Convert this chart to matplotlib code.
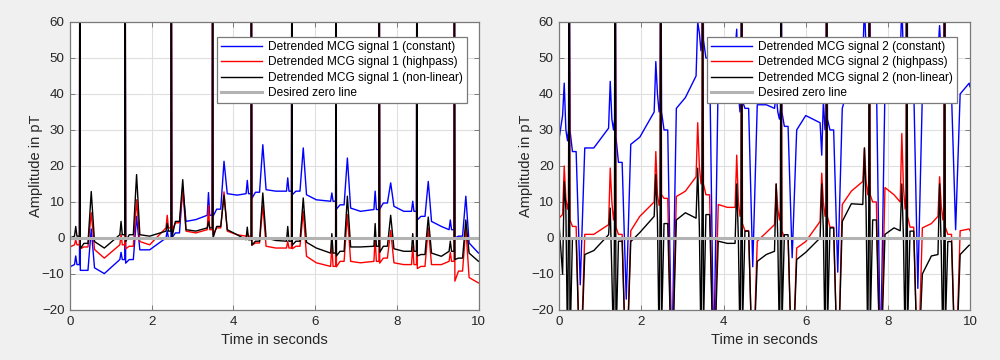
import numpy as np
import matplotlib
matplotlib.use("Agg")
import matplotlib.pyplot as plt

plt.rcParams['font.family'] = ['Liberation Sans', 'DejaVu Sans']

# ---------------- shared axis data ----------------
time_ticks = [0, 2, 4, 6, 8, 10]
amp_ticks = [-20, -10, 0, 10, 20, 30, 40, 50, 60]
series_colors = ['#0000ff', '#ff0000', '#000000']
zero_color = '#b3b3b3'

# ---------------- signal 1 (left panel) ----------------
s1_beat_t = [0.24, 1.35, 2.48, 3.49, 4.44, 5.43, 6.51, 7.57, 8.49, 9.41]
# time offsets (s) of the read points inside one beat, relative to the R peak
s1_rel_t = [-0.13, -0.10, -0.07, -0.008, 0.0, 0.012, 0.10, 0.20, 0.28, 0.36, 0.60]
# which reading of a beat row is found at each offset
s1_pick = [0, 1, 0, 0, 2, 3, 4, 4, 5, 6, 7]
# beat rows: [baseline before, P, R, S, ST, T, after T, mid-diastole]
s1_constant = [
    [-7.4, -5.0, 100, -9, -9.0, 2.5, -8.3, -9.9],
    [-6.0, -4.0, 100, -7, -6.0, 6.0, -3.3, -3.3],
    [0.0, 2.0, 100, 0, 1.4, 14.0, 4.6, 5.1],
    [6.3, 12.6, 100, 6, 8.0, 21.3, 12.3, 11.9],
    [12.3, 16.0, 100, 11, 12.7, 25.9, 13.4, 13.0],
    [13.0, 16.7, 100, 12, 13.0, 25.0, 12.0, 10.6],
    [10.2, 12.5, 100, 8, 9.2, 22.2, 8.3, 7.4],
    [7.9, 13.0, 100, 8, 9.7, 15.3, 8.8, 7.4],
    [7.4, 10.2, 100, 5, 6.0, 15.7, 4.6, 3.2],
    [2.3, 5.0, 100, 0, 0.5, 11.6, -1.4, -4.2],
]
s1_highpass = [
    [-1.9, -0.5, 100, -3, -2.5, 7.0, -3.2, -5.6],
    [-1.9, 1.0, 100, -3, -2.3, 10.6, -1.0, -1.9],
    [2.8, 6.3, 100, 2, 4.2, 13.4, 1.9, 1.4],
    [2.3, 9.0, 100, 1, 2.8, 12.8, 1.9, 0.9],
    [0.5, 1.5, 100, -2, -1.4, 9.0, -2.3, -2.8],
    [-2.8, -1.0, 100, -3, -2.3, 7.4, -5.1, -6.9],
    [-7.9, -1.9, 100, -8, -6.5, 6.5, -6.5, -6.9],
    [-6.5, 0.0, 100, -7, -5.6, 2.1, -6.9, -7.4],
    [-7.4, -2.3, 100, -8.5, -7.9, 2.8, -7.4, -7.4],
    [-6.5, -4.0, 100, -12, -9.2, 2.8, -11.0, -12.5],
]
s1_nonlinear = [
    [0.5, 3.2, 100, -3, -1.5, 12.9, -1.0, -2.8],
    [0.9, 4.6, 100, -1, 0.9, 17.6, 0.9, 0.5],
    [1.9, 4.0, 100, 0, 4.6, 16.2, 2.3, 1.9],
    [2.8, 4.6, 100, 0, 3.2, 11.8, 2.3, 0.9],
    [-0.5, 3.0, 100, -2, -0.9, 12.5, 0.0, -0.7],
    [-0.9, 3.2, 100, -2, -0.9, 11.1, -1.2, -2.8],
    [-4.2, 1.2, 100, -5, -3.7, 11.6, -2.5, -2.5],
    [-2.3, 4.0, 100, -4, -2.3, 6.3, -3.0, -3.7],
    [-3.7, 1.2, 100, -5, -4.6, 5.8, -4.2, -5.1],
    [-3.7, -0.9, 100, -6, -5.6, 5.0, -4.2, -6.5],
]
s1_start = [-8.0, -2.5, 0.0]   # values at t = 0 (constant, highpass, non-linear)
s1_end = [-4.2, -12.5, -6.5]   # values at t = 10

# ---------------- signal 2 (right panel) ----------------
s2_beat_t = [0.24, 1.36, 2.47, 3.49, 4.44, 5.40, 6.51, 7.55, 8.46, 9.38]
s2_rel_t = [-0.16, -0.12, -0.08, -0.04, -0.015, 0.0, 0.02, 0.08, 0.17, 0.27, 0.38, 0.60]
s2_pick = [0, 1, 2, 3, 4, 5, 6, 7, 7, 8, 9, 10]
# beat rows: [before, Q spike, after Q, down spike, before R, R, S, ST, T dip, after T, mid]
s2_constant = [
    [34, 43, 30, 27, 30, 100, 30, 24, -13, 25, 25],
    [30.5, 43.5, 33, 30, 33, 100, 28, 21, -17, 26, 28],
    [35, 49, 40, 35, 38, 100, 35, 30, -35, 36, 39],
    [45, 60, 57, 52, 55, 100, 55, 50, -35, 45, 50],
    [52, 58, 40, 35, 40, 100, 38, 36, -8, 37, 37],
    [36, 40, 35, 33, 36, 100, 35, 31, -5.5, 30, 34],
    [32, 23, 38, 30, 34, 100, 33, 30, -9.5, 36, 45],
    [50, 65, 52, 48, 52, 100, 50, 45, -35, 42, 48],
    [50, 65, 50, 45, 50, 100, 48, 42, -14, 40, 48],
    [52, 59, 50, 45, 50, 100, 48, 40, 2.3, 40, 43],
]
s2_highpass = [
    [6.5, 20, 11, 8, 10, 100, 5, 3.2, -40, 1, 1],
    [3.7, 19.4, 10, 5, 8, 100, 3, 1, -40, 2, 6],
    [10, 24, 12, 9, 11, 100, 12, 11, -40, 11.5, 13],
    [17, 32, 20, 15, 18, 100, 15, 12, -40, 9.3, 8.5],
    [8.5, 23, 10, 6, 8, 100, 4, 2, -40, -0.9, 1.5],
    [3.7, 15, 8, 5, 8, 100, 2, 0, -40, -2.8, -1],
    [4.6, 18, 10, 6, 9, 100, 6, 3, -40, 9.3, 13],
    [15.7, 25, 16, 12, 15, 100, 12, 10, -40, 14, 12],
    [10, 29, 14, 8, 12, 100, 6, 3, -40, 2.8, 4],
    [6, 17, 9, 5, 8, 100, 3, 1, -40, 2, 2.5],
]
s2_nonlinear = [
    [-10, 15.6, 8, -30, 5, 100, -30, 0, -40, -4.6, -3.5],
    [0.9, 8.3, -10, -30, 5, 100, -30, -0.9, -40, -1, 1.5],
    [6, 17.6, 5, -30, 8, 100, -25, 4, -40, 5, 7],
    [5.5, 19.4, 3, -30, 6, 100, -25, 6.5, -40, -0.9, -1.5],
    [-1.5, 15, 0, -30, 3, 100, -25, 1.9, -40, -6.5, -4.6],
    [-3.7, 15, 0, -30, 2, 100, -25, 0.9, -40, -6, -4],
    [0, 15, 2, -30, 4, 100, -25, 2.8, -40, 4.6, 9.5],
    [9.3, 25, 8, -30, 8, 100, -25, 5, -40, 1, 2.8],
    [2, 15, 0, -30, 3, 100, -25, 1.9, -40, -10, -5],
    [-4.6, 15, -3, -30, 0, 100, -25, -1, -40, -4.6, -2],
]
s2_start = [28.0, 5.6, 2.8]
s2_end = [42.0, 2.0, -2.0]

s1_labels = ['Detrended MCG signal 1 (constant)',
             'Detrended MCG signal 1 (highpass)',
             'Detrended MCG signal 1 (non-linear)']
s2_labels = ['Detrended MCG signal 2 (constant)',
             'Detrended MCG signal 2 (highpass)',
             'Detrended MCG signal 2 (non-linear)']
zero_label = 'Desired zero line'


def assemble(beat_t, rel_t, pick, rows, v_start, v_end):
    """Place the read values of every beat at their read times."""
    ts, vs = [0.0], [v_start]
    for bt, row in zip(beat_t, rows):
        for r, k in zip(rel_t, pick):
            ts.append(bt + r)
            vs.append(row[k])
    ts.append(10.0)
    vs.append(v_end)
    order = np.argsort(ts, kind='stable')
    return np.asarray(ts)[order], np.asarray(vs)[order]


fig = plt.figure(figsize=(10, 3.6), dpi=100, facecolor='#f0f0f0')
ax1 = fig.add_axes([0.070, 0.139, 0.4085, 0.800])
ax2 = fig.add_axes([0.5593, 0.139, 0.4107, 0.800])

panels = [
    (ax1, s1_beat_t, s1_rel_t, s1_pick, [s1_constant, s1_highpass, s1_nonlinear],
     s1_start, s1_end, s1_labels, (1 - 11.5 / 408.5, 1 - 15 / 288.0)),
    (ax2, s2_beat_t, s2_rel_t, s2_pick, [s2_constant, s2_highpass, s2_nonlinear],
     s2_start, s2_end, s2_labels, (1 - 13.0 / 410.7, 1 - 15 / 288.0)),
]

for ax, beat_t, rel_t, pick, rowsets, vstart, vend, labels, anchor in panels:
    ax.set_facecolor('white')
    for rows, c, lab, v0, v1 in zip(rowsets, series_colors, labels, vstart, vend):
        t, v = assemble(beat_t, rel_t, pick, rows, v0, v1)
        ax.plot(t, v, color=c, lw=1.0, label=lab)
    ax.axhline(0, color=zero_color, lw=2.2, label=zero_label)
    ax.set_xlim(0, 10)
    ax.set_ylim(-20, 60)
    ax.set_xticks(time_ticks)
    ax.set_yticks(amp_ticks)
    ax.grid(True, color='#dfdfdf', lw=0.8)
    ax.set_axisbelow(True)
    ax.tick_params(direction='in', length=3.5, width=0.7, colors='#7a7a7a',
                   labelcolor='#262626', labelsize=9.6, top=True, right=True, pad=4)
    for sp in ax.spines.values():
        sp.set_color('#7a7a7a')
        sp.set_linewidth(0.9)
    ax.set_xlabel('Time in seconds', fontsize=10.5, color='#262626', labelpad=4)
    ax.set_ylabel('Amplitude in pT', fontsize=10.5, color='#262626', labelpad=-1)
    leg = ax.legend(loc='upper right', bbox_to_anchor=anchor, borderaxespad=0,
                    fontsize=8.6, handlelength=3.4, handletextpad=0.5,
                    borderpad=0.35, labelspacing=0.28, fancybox=False,
                    framealpha=1.0, edgecolor='#7a7a7a')
    leg.get_frame().set_linewidth(0.9)

fig.savefig('out.png', dpi=100, facecolor=fig.get_facecolor())
